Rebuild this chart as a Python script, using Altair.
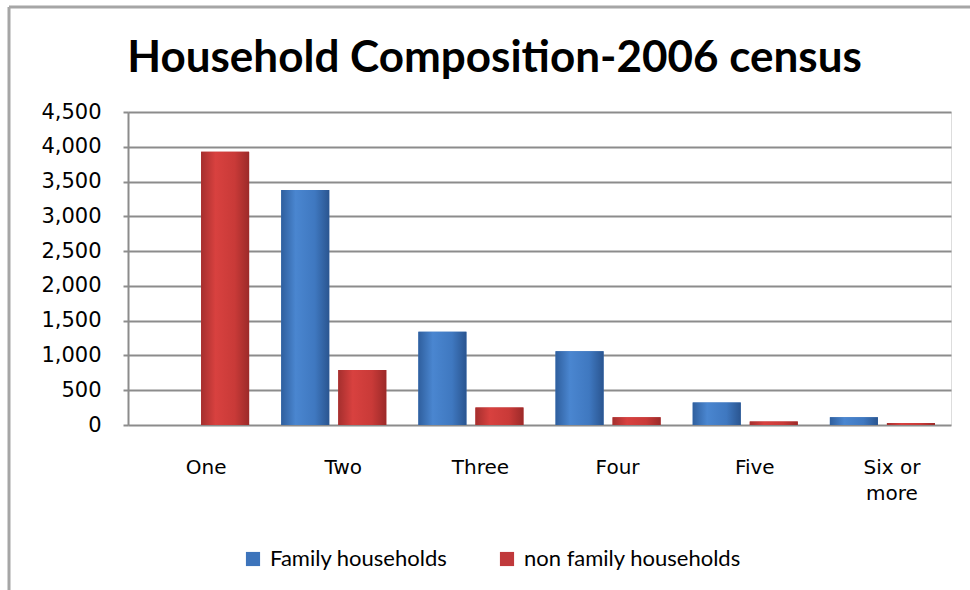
import altair as alt
import pandas as pd

categories = ["One", "Two", "Three", "Four", "Five", "Six or more"]
series = ["Family households", "non family households"]
family = [0, 3380, 1340, 1060, 325, 110]
nonfamily = [3930, 790, 250, 110, 50, 30]

rows = []
for c, f, n in zip(categories, family, nonfamily):
    rows.append({"cat": c, "series": series[0], "value": f})
    rows.append({"cat": c, "series": series[1], "value": n})
df = pd.DataFrame(rows)

blue_grad = alt.Gradient(
    gradient="linear", x1=0, x2=1, y1=0, y2=0,
    stops=[alt.GradientStop(offset=0, color="#2f5f9e"),
           alt.GradientStop(offset=0.3, color="#4a86d0"),
           alt.GradientStop(offset=0.7, color="#3f78c0"),
           alt.GradientStop(offset=1, color="#2a5590")])
red_grad = alt.Gradient(
    gradient="linear", x1=0, x2=1, y1=0, y2=0,
    stops=[alt.GradientStop(offset=0, color="#a52f2e"),
           alt.GradientStop(offset=0.3, color="#d8413f"),
           alt.GradientStop(offset=0.7, color="#c93a38"),
           alt.GradientStop(offset=1, color="#9c2a29")])

x_enc = alt.X("cat:N", sort=categories, title=None,
              scale=alt.Scale(paddingInner=0.234, paddingOuter=0.117),
              axis=alt.Axis(labelAngle=0, ticks=False, labelPadding=23,
                            labelFont="DejaVu Sans", labelFontSize=20,
                            labelColor="#000000", translate=10,
                            labelLineHeight=26,
                            labelExpr="datum.value == 'Six or more' ? ['Six or', 'more'] : datum.label",
                            domain=False, grid=False))
xo_enc = alt.XOffset("series:N", sort=series,
                     scale=alt.Scale(paddingInner=0.158, paddingOuter=0))
y_enc = alt.Y("value:Q", title=None,
              scale=alt.Scale(domain=[0, 4500], nice=False),
              axis=alt.Axis(values=list(range(0, 4501, 500)), format=",d",
                            labelFont="DejaVu Sans", labelFontSize=21,
                            labelColor="#000000", labelPadding=22,
                            tickSize=5, tickColor="#8c8c8c", tickWidth=2,
                            domainColor="#8c8c8c", domainWidth=2,
                            gridColor="#8c8c8c", gridWidth=2))

base = alt.Chart(df).encode(x=x_enc, xOffset=xo_enc, y=y_enc)

colored = base.mark_bar().encode(
    color=alt.Color("series:N", sort=series,
                    scale=alt.Scale(domain=series, range=["#3d74bb", "#c0393b"]),
                    legend=alt.Legend(title=None, orient="none", direction="horizontal",
                                      legendX=114, legendY=436,
                                      symbolType="square", symbolSize=200,
                                      symbolStrokeWidth=0, labelOffset=6,
                                      labelFont="Lato", labelFontSize=22,
                                      labelLimit=400,
                                      labelColor="#000000", columnPadding=48)))
fam = base.transform_filter(alt.datum.series == series[0]).mark_bar(fill=blue_grad)
non = base.transform_filter(alt.datum.series == series[1]).mark_bar(fill=red_grad)

frame = pd.DataFrame({"k": [0]})
left_border = alt.Chart(frame).mark_rule(color="#a6a6a6", strokeWidth=3).encode(
    x=alt.value(-119), y=alt.value(-105), y2=alt.value(480))
top_border = alt.Chart(frame).mark_rule(color="#a6a6a6", strokeWidth=3).encode(
    x=alt.value(-119), x2=alt.value(850), y=alt.value(-105))

chart = alt.layer(colored, fam, non, left_border, top_border).properties(
    width=823, height=313,
    autosize=alt.AutoSizeParams(type="none"),
    padding={"left": 128, "top": 112, "right": 19, "bottom": 165},
    title=alt.Title("Household Composition-2006 census", font="Lato",
                    fontSize=44, fontWeight="bold", color="#000000",
                    anchor="middle", dx=-45, offset=40, dy=115),
).configure_view(stroke=None).configure(background="white")

chart.save("out.html", embed_options={"renderer": "svg", "actions": False})
